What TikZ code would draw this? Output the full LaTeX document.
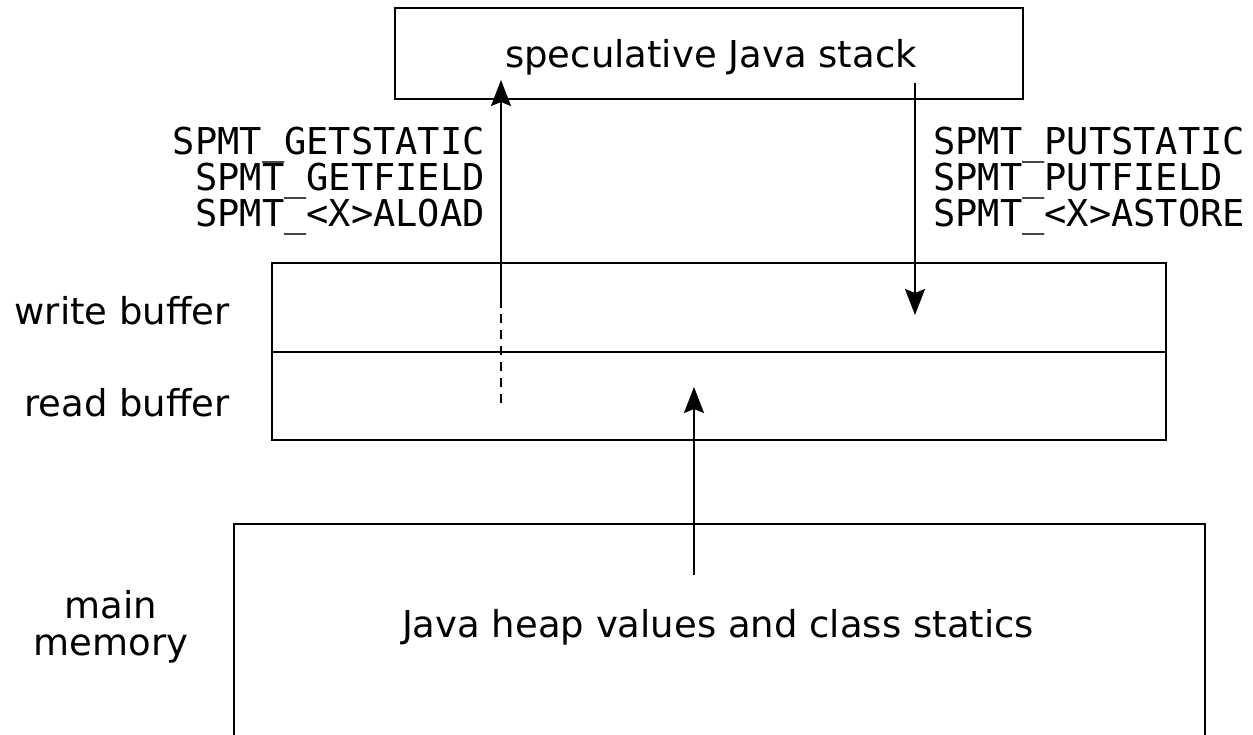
\documentclass[tikz,border=0pt]{standalone}
\usepackage{fontspec}
\setmainfont{DejaVu Sans}
\newfontfamily\codefont{DejaVu Sans Mono}
\usetikzlibrary{arrows.meta}
\tikzset{
  box/.style={draw, line width=2bp},
  flow/.style={line width=2bp, -{Stealth[length=26bp, width=20bp, inset=4bp]}},
  label/.style={inner sep=0pt, font=\fontsize{37bp}{37bp}\selectfont},
  code/.style={inner sep=0pt, font=\codefont\fontsize{37bp}{37bp}\selectfont, align=#1},
}
\begin{document}
\begin{tikzpicture}[x=1bp, y=-1bp]
  \useasboundingbox (0,0) rectangle (1253,735);
  \clip (0,0) rectangle (1253,735);

  % storage levels
  \draw[box] (395,8) rectangle (1023,99);
  \node[label, anchor=base] (stack) at (711,68) {speculative Java stack};

  \draw[box] (272,263) rectangle (1166,440);
  \draw[box] (272,352) -- (1166,352);
  \node[label, anchor=base east] (wb) at (230,324) {write buffer};
  \node[label, anchor=base east] (rb) at (230,416) {read buffer};

  \draw[box] (234,524) rectangle (1205,760);
  \node[label, anchor=base] (mm1) at (111,618) {main};
  \node[label, anchor=base] (mm2) at (111,655) {memory};
  \node[label, anchor=base] (heap) at (718,637) {Java heap values and class statics};

  % loads: read buffer -> stack
  \coordinate (ldA) at (501,403);
  \coordinate (ldB) at (501,308);
  \coordinate (ldC) at (501,80);
  \draw[line width=2bp, dash pattern=on 9bp off 7bp] (ldA) -- (ldB);
  \draw[flow] (ldB) -- (ldC);

  % stores: stack -> write buffer
  \coordinate (stA) at (915,83);
  \coordinate (stB) at (915,315);
  \draw[flow] (stA) -- (stB);

  % fill: main memory -> read buffer
  \coordinate (mmA) at (694,575);
  \coordinate (mmB) at (694,387);
  \draw[flow] (mmA) -- (mmB);

  % bytecode labels
  \node[code=right, anchor=base east] (ld1) at (485,155) {SPMT\_GETSTATIC};
  \node[code=right, anchor=base east] (ld2) at (485,191) {SPMT\_GETFIELD};
  \node[code=right, anchor=base east] (ld3) at (485,227) {SPMT\_<X>ALOAD};
  \node[code=left, anchor=base west] (st1) at (933,155) {SPMT\_PUTSTATIC};
  \node[code=left, anchor=base west] (st2) at (933,191) {SPMT\_PUTFIELD};
  \node[code=left, anchor=base west] (st3) at (933,227) {SPMT\_<X>ASTORE};
\end{tikzpicture}
\end{document}
